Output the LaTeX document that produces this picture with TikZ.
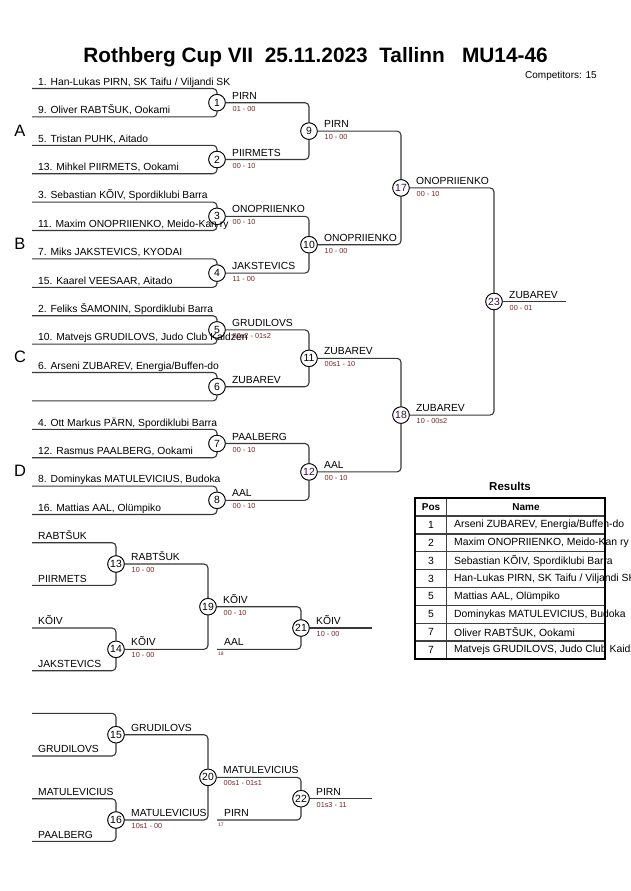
\documentclass[tikz,border=0pt]{standalone}
\usepackage{fontspec}
\setmainfont{Liberation Sans}
\usetikzlibrary{calc}
\definecolor{scorered}{HTML}{7A2424}
\definecolor{numpurple}{HTML}{3C0A3C}
\definecolor{linegray}{HTML}{383838}
\begin{document}
\begin{tikzpicture}[x=1pt,y=-1pt,
  br/.style={draw=linegray,line width=1.1pt,rounded corners=4pt},
  mc/.style={circle,draw=black,line width=0.8pt,fill=white,minimum size=16.5pt,inner sep=0pt,font=\fontsize{10.4}{10}\selectfont},
  nm/.style={anchor=base west,inner sep=0pt,font=\fontsize{10.3}{10}\selectfont},
  sc/.style={anchor=north west,inner sep=0pt,text=scorered,font=\fontsize{7.3}{8}\selectfont},
  tiny/.style={anchor=north west,inner sep=0pt,text=scorered,font=\fontsize{5}{5}\selectfont},
  pool/.style={font=\fontsize{16.5}{16}\selectfont},
  cell/.style={inner sep=0pt,font=\fontsize{10.4}{10}\selectfont},
  hcell/.style={inner sep=0pt,font=\fontsize{10}{10}\bfseries\selectfont},
  tline/.style={draw=black!75,line width=1.4pt}]
\useasboundingbox (0,0) rectangle (630,891);
\fill[white] (0,0) rectangle (630,891);

% title
\node[anchor=base,inner sep=0pt,font=\fontsize{20.8}{22}\bfseries\selectfont] (title) at (315.5,62.7) {Rothberg Cup VII\ \ 25.11.2023\ \ Tallinn\ \ \ MU14-46};
\node[anchor=base west,inner sep=0pt,font=\fontsize{10}{10}\selectfont] (comp) at (525,78.3) {Competitors: 15};

% pool letters
\node[pool] (pA) at (20,131) {A};
\node[pool] (pB) at (20,244) {B};
\node[pool] (pC) at (20,357) {C};
\node[pool] (pD) at (20,471) {D};

% start coordinates main bracket
\coordinate (s1) at (32,88.5);
\coordinate (s2) at (32,116.9);
\coordinate (s3) at (32,145.3);
\coordinate (s4) at (32,173.7);
\coordinate (s5) at (32,202.1);
\coordinate (s6) at (32,230.5);
\coordinate (s7) at (32,258.9);
\coordinate (s8) at (32,287.3);
\coordinate (s9) at (32,315.7);
\coordinate (s10) at (32,344.1);
\coordinate (s11) at (32,372.5);
\coordinate (s12) at (32,400.9);
\coordinate (s13) at (32,429.3);
\coordinate (s14) at (32,457.7);
\coordinate (s15) at (32,486.1);
\coordinate (s16) at (32,514.5);

% match positions (nodes define the circle borders for the connectors)
\begin{scope}[every node/.append style={draw=none,fill=none,text opacity=0}]
\node[mc] (m1) at (217,102.7) {1};
\node[mc] (m2) at (217,159.5) {2};
\node[mc] (m3) at (217,216.3) {3};
\node[mc] (m4) at (217,273.1) {4};
\node[mc] (m5) at (217,329.9) {5};
\node[mc] (m6) at (217,386.7) {6};
\node[mc] (m7) at (217,443.5) {7};
\node[mc] (m8) at (217,500.3) {8};
\node[mc] (m9) at (309,131.1) {9};
\node[mc] (m10) at (309,244.7) {10};
\node[mc] (m11) at (309,358.3) {11};
\node[mc] (m12) at (309,471.9) {12};
\node[mc] (m17) at (401,187.9) {17};
\node[mc] (m18) at (401,415.1) {18};
\node[mc] (m23) at (494,301.5) {23};
\node[mc] (m13) at (116,564) {13};
\node[mc] (m14) at (116,649.3) {14};
\node[mc] (m19) at (208,606.7) {19};
\node[mc] (m21) at (301,628) {21};
\node[mc] (m15) at (116,734.7) {15};
\node[mc] (m16) at (116,820) {16};
\node[mc] (m20) at (208,777.3) {20};
\node[mc] (m22) at (301,798.7) {22};
\end{scope}
\coordinate (f23) at (566,301.5);

% repechage coordinates
\coordinate (r1) at (32,542.7);
\coordinate (r2) at (32,585.3);
\coordinate (r3) at (32,628);
\coordinate (r4) at (32,670.7);
\coordinate (r5) at (32,713.3);
\coordinate (r6) at (32,756);
\coordinate (r7) at (32,798.7);
\coordinate (r8) at (32,841.3);
\coordinate (c18) at (217,649.3);
\coordinate (f21) at (372,628);
\coordinate (c17) at (217,820);
\coordinate (f22) at (372,798.7);

% connectors
\path[br] (s1) -| (m1);  \path[br] (s2) -| (m1);
\path[br] (s3) -| (m2);  \path[br] (s4) -| (m2);
\path[br] (s5) -| (m3);  \path[br] (s6) -| (m3);
\path[br] (s7) -| (m4);  \path[br] (s8) -| (m4);
\path[br] (s9) -| (m5);  \path[br] (s10) -| (m5);
\path[br] (s11) -| (m6); \path[br] (s12) -| (m6);
\path[br] (s13) -| (m7); \path[br] (s14) -| (m7);
\path[br] (s15) -| (m8); \path[br] (s16) -| (m8);
\path[br] (m1) -| (m9);  \path[br] (m2) -| (m9);
\path[br] (m3) -| (m10); \path[br] (m4) -| (m10);
\path[br] (m5) -| (m11); \path[br] (m6) -| (m11);
\path[br] (m7) -| (m12); \path[br] (m8) -| (m12);
\path[br] (m9) -| (m17); \path[br] (m10) -| (m17);
\path[br] (m11) -| (m18); \path[br] (m12) -| (m18);
\path[br] (m17) -| (m23); \path[br] (m18) -| (m23);
\path[br] (m23) -- (f23);

\path[br] (r1) -| (m13); \path[br] (r2) -| (m13);
\path[br] (r3) -| (m14); \path[br] (r4) -| (m14);
\path[br] (m13) -| (m19); \path[br] (m14) -| (m19);
\path[br] (m19) -| (m21); \path[br] (c18) -| (m21);
\path[br] (m21) -- (f21);
\path[br] (r5) -| (m15); \path[br] (r6) -| (m15);
\path[br] (r7) -| (m16); \path[br] (r8) -| (m16);
\path[br] (m15) -| (m20); \path[br] (m16) -| (m20);
\path[br] (m20) -| (m22); \path[br] (c17) -| (m22);
\path[br] (m22) -- (f22);

% visible match circles
\foreach \m in {1,2,3,4,5,6,7,8,9,10,11,13,14,19,21,15,16,20,22}
  \node[mc] (k\m) at (m\m) {\m};
\foreach \m in {12,17,18,23}
  \node[mc,text=numpurple] (k\m) at (m\m) {\m};

% winner labels and scores
\newcommand{\winlab}[3]{%
  \node[nm] at ([xshift=15pt,yshift=3.5pt]#1.center) {#2};
  \node[sc] at ([xshift=15.5pt,yshift=-3.3pt]#1.center) {#3};}
\winlab{m1}{PIRN}{01 - 00}
\winlab{m2}{PIIRMETS}{00 - 10}
\winlab{m3}{ONOPRIIENKO}{00 - 10}
\winlab{m4}{JAKSTEVICS}{11 - 00}
\winlab{m5}{GRUDILOVS}{00s2 - 01s2}
\winlab{m6}{ZUBAREV}{}
\winlab{m7}{PAALBERG}{00 - 10}
\winlab{m8}{AAL}{00 - 10}
\winlab{m9}{PIRN}{10 - 00}
\winlab{m10}{ONOPRIIENKO}{10 - 00}
\winlab{m11}{ZUBAREV}{00s1 - 10}
\winlab{m12}{AAL}{00 - 10}
\winlab{m17}{ONOPRIIENKO}{00 - 10}
\winlab{m18}{ZUBAREV}{10 - 00s2}
\winlab{m23}{ZUBAREV}{00 - 01}
\winlab{m13}{RABTŠUK}{10 - 00}
\winlab{m14}{KÕIV}{10 - 00}
\winlab{m19}{KÕIV}{00 - 10}
\winlab{m21}{KÕIV}{10 - 00}
\winlab{m15}{GRUDILOVS}{}
\winlab{m16}{MATULEVICIUS}{10s1 - 00}
\winlab{m20}{MATULEVICIUS}{00s1 - 01s1}
\winlab{m22}{PIRN}{01s3 - 11}
\node[nm] (l18) at ([xshift=7pt,yshift=3.5pt]c18) {AAL};
\node[tiny] (t18) at ([xshift=1pt,yshift=-2.5pt]c18) {18};
\node[nm] (l17) at ([xshift=7pt,yshift=3.5pt]c17) {PIRN};
\node[tiny] (t17) at ([xshift=1pt,yshift=-2.5pt]c17) {17};

% competitor names
\newcommand{\complab}[2]{\node[nm] at ([xshift=6pt,yshift=3.2pt]#1) {#2};}
\complab{s1}{1. Han-Lukas PIRN, SK Taifu / Viljandi SK}
\complab{s2}{9. Oliver RABTŠUK, Ookami}
\complab{s3}{5. Tristan PUHK, Aitado}
\complab{s4}{13. Mihkel PIIRMETS, Ookami}
\complab{s5}{3. Sebastian KÕIV, Spordiklubi Barra}
\complab{s6}{11. Maxim ONOPRIIENKO, Meido-Kan ry}
\complab{s7}{7. Miks JAKSTEVICS, KYODAI}
\complab{s8}{15. Kaarel VEESAAR, Aitado}
\complab{s9}{2. Feliks ŠAMONIN, Spordiklubi Barra}
\complab{s10}{10. Matvejs GRUDILOVS, Judo Club Kaidzen}
\complab{s11}{6. Arseni ZUBAREV, Energia/Buffen-do}
\complab{s13}{4. Ott Markus PÄRN, Spordiklubi Barra}
\complab{s14}{12. Rasmus PAALBERG, Ookami}
\complab{s15}{8. Dominykas MATULEVICIUS, Budoka}
\complab{s16}{16. Mattias AAL, Olümpiko}
\complab{r1}{RABTŠUK}
\complab{r2}{PIIRMETS}
\complab{r3}{KÕIV}
\complab{r4}{JAKSTEVICS}
\complab{r6}{GRUDILOVS}
\complab{r7}{MATULEVICIUS}
\complab{r8}{PAALBERG}

% results table
\node[inner sep=0pt,font=\fontsize{11.5}{12}\bfseries\selectfont] (restitle) at (510,486) {Results};
\node[hcell] (hpos) at (431,507) {Pos};
\node[hcell] (hname) at (526,507) {Name};
\foreach \i/\p/\n [evaluate=\i as \yc using 516+17.875*(\i-0.5)] in {%
  1/1/{Arseni ZUBAREV, Energia/Buffen-do},
  2/2/{Maxim ONOPRIIENKO, Meido-Kan ry},
  3/3/{Sebastian KÕIV, Spordiklubi Barra},
  4/3/{Han-Lukas PIRN, SK Taifu / Viljandi SK},
  5/5/{Mattias AAL, Olümpiko},
  6/5/{Dominykas MATULEVICIUS, Budoka},
  7/7/{Oliver RABTŠUK, Ookami},
  8/7/{Matvejs GRUDILOVS, Judo Club Kaidzen}}{
  \node[cell] (tp\i) at (431,\yc) {\p};
  \node[cell,anchor=west] (tn\i) at (454,\yc) {\n};
}
\foreach \i in {1,...,7}
  \draw[tline] (415,516+17.875*\i) -- (605,516+17.875*\i);
\draw[tline] (415,516) -- (605,516);
\draw[tline] (446.7,498) -- (446.7,659);
\draw[draw=black,line width=1.9pt] (415,498) rectangle (605,659);
\end{tikzpicture}
\end{document}
